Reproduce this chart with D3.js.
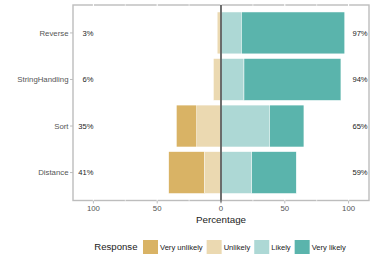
<!DOCTYPE html>
<html>
<head>
<meta charset="utf-8">
<script src="https://cdn.jsdelivr.net/npm/d3@7"></script>
<style>
  body { margin: 0; background: #fff; }
  svg { display: block; font-family: "Liberation Sans", Arial, sans-serif; }
</style>
</head>
<body>
<div id="main"></div>
<script>
// Datos del gráfico
var items = ["Reverse", "StringHandling", "Sort", "Distance"];
var niveles = ["Very unlikely", "Unlikely", "Likely", "Very likely"];
var veryUnlikely = [0, 0, 16, 28];
var unlikely = [3, 6, 19, 13];
var likely = [16, 18, 38, 24];
var veryLikely = [81, 76, 27, 35];
var xTicks = [-100, -50, 0, 50, 100];
var xTickLabels = ["100", "50", "0", "50", "100"];
var colores = ["#d9b365", "#ebd9b1", "#add8d5", "#5ab4ac"];

var width = 374, height = 265;
var panel = { left: 73, right: 369, top: 5, bottom: 200.5 };

var svg = d3.select("#main").append("svg")
  .attr("width", width)
  .attr("height", height);

var x = d3.scaleLinear().domain([-116, 116]).range([panel.left, panel.right]);
var y = d3.scaleBand().domain(items).range([panel.top, panel.bottom])
  .paddingInner(0.1).paddingOuter(0.15);

// Borde del panel
svg.append("rect")
  .attr("x", panel.left).attr("y", panel.top)
  .attr("width", panel.right - panel.left).attr("height", panel.bottom - panel.top)
  .attr("fill", "#fff").attr("stroke", "#bdbdbd").attr("stroke-width", 1.4);

// Líneas de la rejilla (blancas, solo visibles sobre el borde)
var grid = d3.range(-100, 101, 25);
svg.selectAll(".grid").data(grid).enter().append("line")
  .attr("x1", function(d) { return x(d); }).attr("x2", function(d) { return x(d); })
  .attr("y1", panel.top - 1).attr("y2", panel.bottom + 1)
  .attr("stroke", "#fff").attr("stroke-width", function(d) { return d % 50 === 0 ? 1.1 : 0.6; });

// Segmentos apilados
var series = [veryUnlikely, unlikely, likely, veryLikely];
var segmentos = [];
items.forEach(function(item, i) {
  // lado negativo: Unlikely junto al cero, luego Very unlikely
  var neg = 0;
  [1, 0].forEach(function(k) {
    segmentos.push({ item: item, k: k, x0: neg - series[k][i], x1: neg });
    neg -= series[k][i];
  });
  var pos = 0;
  [2, 3].forEach(function(k) {
    segmentos.push({ item: item, k: k, x0: pos, x1: pos + series[k][i] });
    pos += series[k][i];
  });
});

svg.selectAll(".seg").data(segmentos.filter(function(d) { return d.x1 > d.x0; }))
  .enter().append("rect")
  .attr("x", function(d) { return x(d.x0); })
  .attr("width", function(d) { return x(d.x1) - x(d.x0); })
  .attr("y", function(d) { return y(d.item); })
  .attr("height", y.bandwidth())
  .attr("fill", function(d) { return colores[d.k]; })
  .attr("stroke", "#fff").attr("stroke-width", 0.5);

// Línea del cero
svg.append("line")
  .attr("x1", x(0)).attr("x2", x(0))
  .attr("y1", panel.top).attr("y2", panel.bottom + 2)
  .attr("stroke", "#5f5f5f").attr("stroke-width", 1.8);

// Etiquetas de porcentaje
items.forEach(function(item, i) {
  var low = veryUnlikely[i] + unlikely[i];
  var high = likely[i] + veryLikely[i];
  var cy = y(item) + y.bandwidth() / 2;
  svg.append("text").attr("x", x(-100)).attr("y", cy).attr("dy", "0.35em")
    .attr("text-anchor", "end").attr("font-size", 7.6).attr("fill", "#222")
    .text(low + "%");
  svg.append("text").attr("x", x(103)).attr("y", cy).attr("dy", "0.35em")
    .attr("text-anchor", "start").attr("font-size", 7.6).attr("fill", "#222")
    .text(high + "%");
});

// Eje Y
items.forEach(function(item) {
  var cy = y(item) + y.bandwidth() / 2;
  svg.append("line").attr("x1", panel.left - 3).attr("x2", panel.left)
    .attr("y1", cy).attr("y2", cy).attr("stroke", "#bdbdbd").attr("stroke-width", 1);
  svg.append("text").attr("x", panel.left - 4.5).attr("y", cy).attr("dy", "0.35em")
    .attr("text-anchor", "end").attr("font-size", 7.8).attr("fill", "#555")
    .text(item);
});

// Eje X
xTicks.forEach(function(t, i) {
  svg.append("line").attr("x1", x(t)).attr("x2", x(t))
    .attr("y1", panel.bottom).attr("y2", panel.bottom + 3)
    .attr("stroke", "#bdbdbd").attr("stroke-width", 1);
  svg.append("text").attr("x", x(t)).attr("y", 208).attr("dy", "0.35em")
    .attr("text-anchor", "middle").attr("font-size", 7.8).attr("fill", "#555")
    .text(xTickLabels[i]);
});

svg.append("text").attr("x", x(0)).attr("y", 219.5).attr("dy", "0.35em")
  .attr("text-anchor", "middle").attr("font-size", 9.8).attr("fill", "#222")
  .text("Percentage");

// Leyenda
var leyendaY = 247;
var lx = 94.3;
var titulo = svg.append("text").attr("x", lx).attr("y", leyendaY).attr("dy", "0.35em")
  .attr("font-size", 9.6).attr("fill", "#222").text("Response");
lx += titulo.node().getComputedTextLength() + 5.5;
niveles.forEach(function(n, k) {
  svg.append("rect").attr("x", lx).attr("y", leyendaY - 7).attr("width", 15).attr("height", 14)
    .attr("fill", colores[k]);
  var t = svg.append("text").attr("x", lx + 17).attr("y", leyendaY).attr("dy", "0.35em")
    .attr("font-size", 7.6).attr("fill", "#222").text(n);
  lx += 17 + t.node().getComputedTextLength() + 4;
});
</script>
</body>
</html>
